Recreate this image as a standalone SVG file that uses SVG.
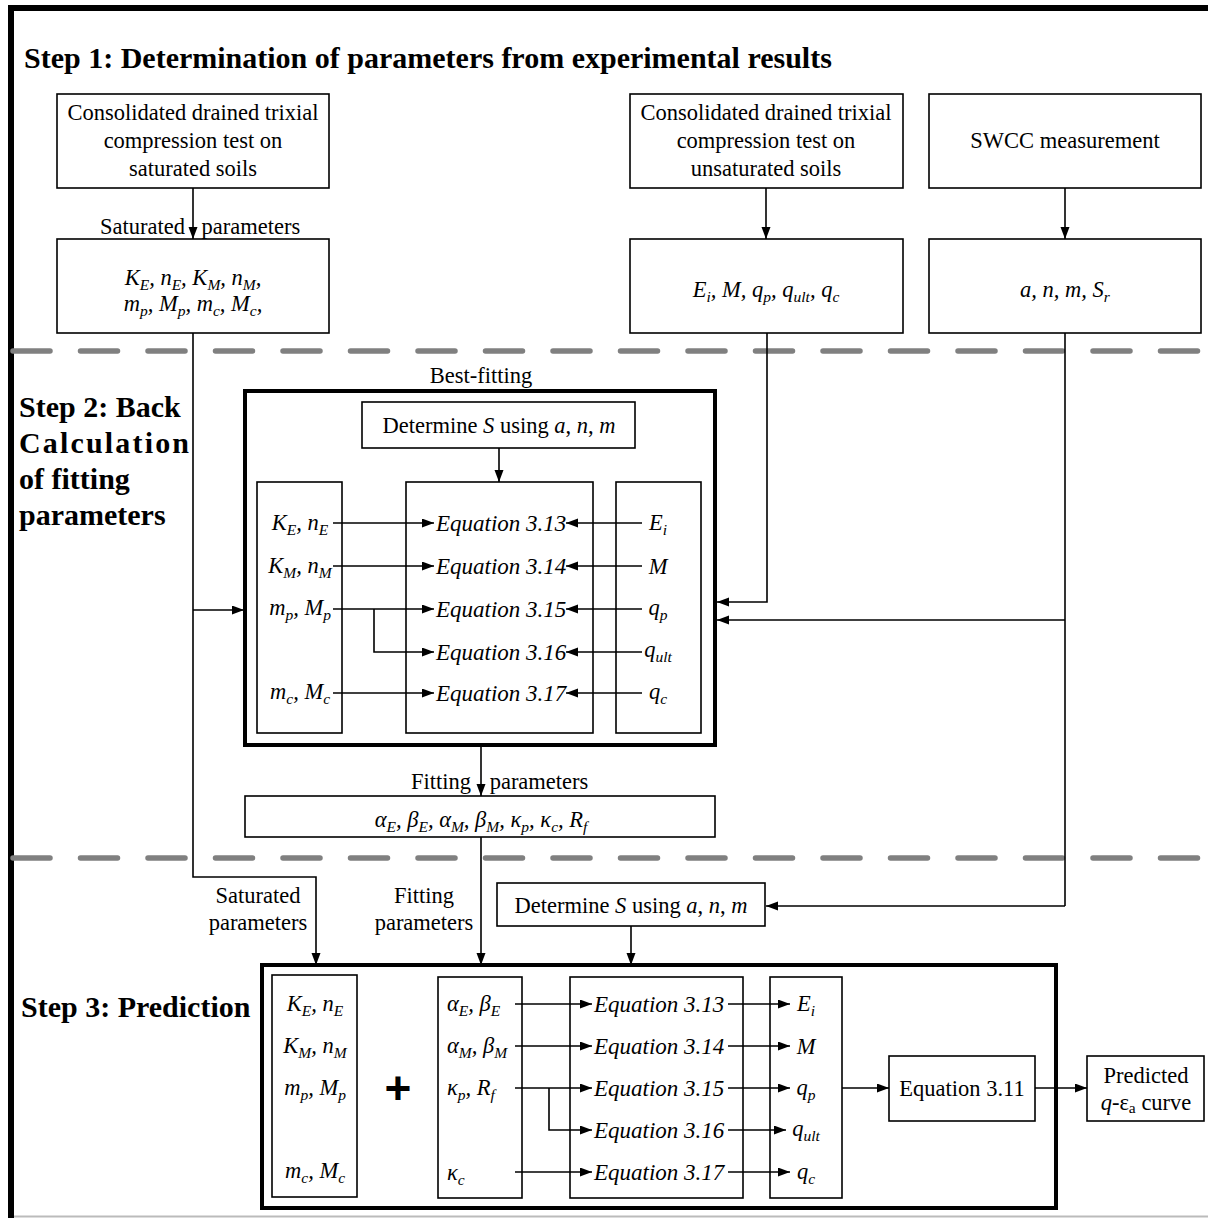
<svg xmlns="http://www.w3.org/2000/svg" width="1208" height="1218" viewBox="0 0 1208 1218" font-family="Liberation Serif, Times New Roman, serif">
<defs>
<marker id="ah" markerUnits="userSpaceOnUse" markerWidth="14" markerHeight="10" refX="12" refY="4.5" orient="auto">
<path d="M0,0 L12,4.5 L0,9 z" fill="#000"/>
</marker>
<style>
text{font-family:"Liberation Serif","Times New Roman",serif;fill:#000}
.t{font-size:22.5px}
.c{text-anchor:middle}
.i{font-style:italic}
.m{font-size:22.5px;font-style:italic}
.eq{font-size:23px;font-style:italic}
.s{font-size:15.5px}
.h{font-size:30px;font-weight:bold}
.box{fill:#fff;stroke:#000;stroke-width:1.6}
.big{fill:none;stroke:#000;stroke-width:4}
.ln{fill:none;stroke:#000;stroke-width:1.6}
.ar{fill:none;stroke:#000;stroke-width:1.6;marker-end:url(#ah)}
.dash{stroke:#808080;stroke-width:5.5;stroke-dasharray:37 30.5;stroke-linecap:round}
</style>
</defs>
<rect width="1208" height="1218" fill="#fff"/>
<g id="frame">
<line x1="8" y1="8" x2="1208" y2="8" stroke="#000" stroke-width="6"/>
<line x1="11" y1="5" x2="11" y2="1218" stroke="#000" stroke-width="6"/>
<line x1="14" y1="1216.5" x2="1208" y2="1216.5" stroke="#bbb" stroke-width="2"/>
<line class="dash" x1="13" y1="351" x2="1208" y2="351"/>
<line class="dash" x1="13" y1="858" x2="1208" y2="858"/>
</g>
<g id="titles">
<text class="h" x="24" y="68">Step 1: Determination of parameters from experimental results</text>
<text class="h" x="19" y="417">Step 2: Back</text>
<text class="h" x="19" y="453" textLength="170" lengthAdjust="spacing">Calculation</text>
<text class="h" x="19" y="489">of fitting</text>
<text class="h" x="19" y="525">parameters</text>
<text class="h" x="21" y="1017">Step 3: Prediction</text>
</g>
<g id="labels">
<text class="t" x="100" y="234" word-spacing="11">Saturated parameters</text>
<text class="t c" x="481" y="383">Best-fitting</text>
<text class="t" x="411" y="789" word-spacing="13">Fitting parameters</text>
<text class="t c" x="258" y="903">Saturated</text>
<text class="t c" x="258" y="930">parameters</text>
<text class="t c" x="424" y="903">Fitting</text>
<text class="t c" x="424" y="930">parameters</text>
</g>
<g id="n-sat-test">
<rect class="box" x="57" y="94" width="272" height="94"/>
<text class="t c" x="193" y="120">Consolidated drained trixial</text>
<text class="t c" x="193" y="148">compression test on</text>
<text class="t c" x="193" y="176">saturated soils</text>
</g>
<g id="n-sat-params">
<rect class="box" x="57" y="239" width="272" height="94"/>
<text class="m c" x="193" y="285">K<tspan class="s" dy="5">E</tspan><tspan dy="-5">, n</tspan><tspan class="s" dy="5">E</tspan><tspan dy="-5">, K</tspan><tspan class="s" dy="5">M</tspan><tspan dy="-5">, n</tspan><tspan class="s" dy="5">M</tspan><tspan dy="-5">,</tspan></text>
<text class="m c" x="193" y="311">m<tspan class="s" dy="5">p</tspan><tspan dy="-5">, M</tspan><tspan class="s" dy="5">p</tspan><tspan dy="-5">, m</tspan><tspan class="s" dy="5">c</tspan><tspan dy="-5">, M</tspan><tspan class="s" dy="5">c</tspan><tspan dy="-5">,</tspan></text>
</g>
<g id="n-unsat-test">
<rect class="box" x="630" y="94" width="273" height="94"/>
<text class="t c" x="766" y="120">Consolidated drained trixial</text>
<text class="t c" x="766" y="148">compression test on</text>
<text class="t c" x="766" y="176">unsaturated soils</text>
</g>
<g id="n-unsat-params">
<rect class="box" x="630" y="239" width="273" height="94"/>
<text class="m c" x="766" y="297">E<tspan class="s" dy="5">i</tspan><tspan dy="-5">, M, q</tspan><tspan class="s" dy="5">p</tspan><tspan dy="-5">, q</tspan><tspan class="s" dy="5">ult</tspan><tspan dy="-5">, q</tspan><tspan class="s" dy="5">c</tspan></text>
</g>
<g id="n-swcc">
<rect class="box" x="929" y="94" width="272" height="94"/>
<text class="t c" x="1065" y="148">SWCC measurement</text>
</g>
<g id="n-swcc-params">
<rect class="box" x="929" y="239" width="272" height="94"/>
<text class="m c" x="1065" y="297">a, n, m, S<tspan class="s" dy="5">r</tspan></text>
</g>
<g id="n-step2">
<rect class="big" x="245" y="391" width="470" height="354"/>
</g>
<g id="n-detS-1">
<rect class="box" x="362" y="402" width="273" height="46"/>
<text class="t c" x="499" y="433">Determine <tspan class="i">S</tspan> using <tspan class="i">a</tspan>, <tspan class="i">n</tspan>, <tspan class="i">m</tspan></text>
</g>
<g id="n-s2-sat">
<rect class="box" x="257" y="482" width="85" height="251"/>
<text class="m c" x="300" y="530">K<tspan class="s" dy="5">E</tspan><tspan dy="-5">, n</tspan><tspan class="s" dy="5">E</tspan></text>
<text class="m c" x="300" y="573">K<tspan class="s" dy="5">M</tspan><tspan dy="-5">, n</tspan><tspan class="s" dy="5">M</tspan></text>
<text class="m c" x="300" y="615">m<tspan class="s" dy="5">p</tspan><tspan dy="-5">, M</tspan><tspan class="s" dy="5">p</tspan></text>
<text class="m c" x="300" y="699">m<tspan class="s" dy="5">c</tspan><tspan dy="-5">, M</tspan><tspan class="s" dy="5">c</tspan></text>
</g>
<g id="n-s2-eq">
<rect class="box" x="406" y="482" width="187" height="251"/>
<text class="eq" x="436" y="531">Equation 3.13</text>
<text class="eq" x="436" y="574">Equation 3.14</text>
<text class="eq" x="436" y="617">Equation 3.15</text>
<text class="eq" x="436" y="660">Equation 3.16</text>
<text class="eq" x="436" y="701">Equation 3.17</text>
</g>
<g id="n-s2-unsat">
<rect class="box" x="616" y="482" width="85" height="251"/>
<text class="m c" x="658" y="530">E<tspan class="s" dy="5">i</tspan></text>
<text class="m c" x="658" y="574">M</text>
<text class="m c" x="658" y="615">q<tspan class="s" dy="5">p</tspan></text>
<text class="m c" x="658" y="657">q<tspan class="s" dy="5">ult</tspan></text>
<text class="m c" x="658" y="699">q<tspan class="s" dy="5">c</tspan></text>
</g>
<g id="n-fitting">
<rect class="box" x="245" y="796" width="470" height="41"/>
<text class="m c" x="481" y="827">α<tspan class="s" dy="5">E</tspan><tspan dy="-5">, β</tspan><tspan class="s" dy="5">E</tspan><tspan dy="-5">, α</tspan><tspan class="s" dy="5">M</tspan><tspan dy="-5">, β</tspan><tspan class="s" dy="5">M</tspan><tspan dy="-5">, κ</tspan><tspan class="s" dy="5">p</tspan><tspan dy="-5">, κ</tspan><tspan class="s" dy="5">c</tspan><tspan dy="-5">, R</tspan><tspan class="s" dy="5">f</tspan></text>
</g>
<g id="n-detS-2">
<rect class="box" x="497" y="883" width="268" height="43"/>
<text class="t c" x="631" y="913">Determine <tspan class="i">S</tspan> using <tspan class="i">a</tspan>, <tspan class="i">n</tspan>, <tspan class="i">m</tspan></text>
</g>
<g id="n-step3">
<rect class="big" x="262" y="965" width="794" height="243"/>
</g>
<g id="n-s3-sat">
<rect class="box" x="272" y="975" width="85" height="222"/>
<text class="m c" x="315" y="1011">K<tspan class="s" dy="5">E</tspan><tspan dy="-5">, n</tspan><tspan class="s" dy="5">E</tspan></text>
<text class="m c" x="315" y="1053">K<tspan class="s" dy="5">M</tspan><tspan dy="-5">, n</tspan><tspan class="s" dy="5">M</tspan></text>
<text class="m c" x="315" y="1095">m<tspan class="s" dy="5">p</tspan><tspan dy="-5">, M</tspan><tspan class="s" dy="5">p</tspan></text>
<text class="m c" x="315" y="1178">m<tspan class="s" dy="5">c</tspan><tspan dy="-5">, M</tspan><tspan class="s" dy="5">c</tspan></text>
</g>
<g id="n-plus">
<text x="398" y="1104" text-anchor="middle" font-size="46" font-weight="bold" style="font-family:'Liberation Sans',Arial,sans-serif">+</text>
</g>
<g id="n-s3-fit">
<rect class="box" x="438" y="977" width="84" height="221"/>
<text class="m" x="447" y="1011">α<tspan class="s" dy="5">E</tspan><tspan dy="-5">, β</tspan><tspan class="s" dy="5">E</tspan></text>
<text class="m" x="447" y="1053">α<tspan class="s" dy="5">M</tspan><tspan dy="-5">, β</tspan><tspan class="s" dy="5">M</tspan></text>
<text class="m" x="447" y="1095">κ<tspan class="s" dy="5">p</tspan><tspan dy="-5">, R</tspan><tspan class="s" dy="5">f</tspan></text>
<text class="m" x="447" y="1180">κ<tspan class="s" dy="5">c</tspan></text>
</g>
<g id="n-s3-eq">
<rect class="box" x="570" y="977" width="173" height="221"/>
<text class="eq" x="594" y="1012">Equation 3.13</text>
<text class="eq" x="594" y="1054">Equation 3.14</text>
<text class="eq" x="594" y="1096">Equation 3.15</text>
<text class="eq" x="594" y="1138">Equation 3.16</text>
<text class="eq" x="594" y="1180">Equation 3.17</text>
</g>
<g id="n-s3-out">
<rect class="box" x="770" y="977" width="72" height="221"/>
<text class="m c" x="806" y="1011">E<tspan class="s" dy="5">i</tspan></text>
<text class="m c" x="806" y="1054">M</text>
<text class="m c" x="806" y="1095">q<tspan class="s" dy="5">p</tspan></text>
<text class="m c" x="806" y="1136">q<tspan class="s" dy="5">ult</tspan></text>
<text class="m c" x="806" y="1179">q<tspan class="s" dy="5">c</tspan></text>
</g>
<g id="n-eq311">
<rect class="box" x="889" y="1056" width="146" height="65"/>
<text class="t c" x="962" y="1096">Equation 3.11</text>
</g>
<g id="n-predicted">
<rect class="box" x="1087" y="1056" width="117" height="65"/>
<text class="t c" x="1146" y="1083">Predicted</text>
<text class="t c" x="1146" y="1110"><tspan class="i">q</tspan>-ε<tspan class="s" dy="3">a</tspan><tspan dy="-3"> curve</tspan></text>
</g>
<g id="connectors">
<line class="ar" x1="193" y1="188" x2="193" y2="239"/>
<line class="ar" x1="766" y1="188" x2="766" y2="239"/>
<line class="ar" x1="1065" y1="188" x2="1065" y2="239"/>
<polyline class="ar" points="193,333 193,877 316,877 316,965"/>
<line class="ar" x1="193" y1="610" x2="244" y2="610"/>
<polyline class="ar" points="767,333 767,602 717,602"/>
<line class="ln" x1="1065" y1="333" x2="1065" y2="906"/>
<line class="ar" x1="1065" y1="620" x2="717" y2="620"/>
<line class="ar" x1="1065" y1="906" x2="766" y2="906"/>
<line class="ar" x1="499" y1="448" x2="499" y2="482"/>
<line class="ar" x1="333" y1="523" x2="434" y2="523"/>
<line class="ar" x1="333" y1="566" x2="434" y2="566"/>
<line class="ar" x1="333" y1="609" x2="434" y2="609"/>
<polyline class="ar" points="374,609 374,652 434,652"/>
<line class="ar" x1="333" y1="693" x2="434" y2="693"/>
<line class="ar" x1="642" y1="523" x2="566" y2="523"/>
<line class="ar" x1="642" y1="566" x2="566" y2="566"/>
<line class="ar" x1="642" y1="609" x2="566" y2="609"/>
<line class="ar" x1="642" y1="652" x2="566" y2="652"/>
<line class="ar" x1="642" y1="693" x2="566" y2="693"/>
<line class="ar" x1="481" y1="745" x2="481" y2="796"/>
<line class="ar" x1="481" y1="837" x2="481" y2="965"/>
<line class="ar" x1="631" y1="926" x2="631" y2="965"/>
<line class="ar" x1="515" y1="1004" x2="592" y2="1004"/>
<line class="ar" x1="515" y1="1046" x2="592" y2="1046"/>
<line class="ar" x1="515" y1="1088" x2="592" y2="1088"/>
<polyline class="ar" points="549,1088 549,1130 592,1130"/>
<line class="ar" x1="515" y1="1172" x2="592" y2="1172"/>
<line class="ar" x1="728" y1="1004" x2="790" y2="1004"/>
<line class="ar" x1="728" y1="1046" x2="790" y2="1046"/>
<line class="ar" x1="728" y1="1088" x2="790" y2="1088"/>
<line class="ar" x1="728" y1="1130" x2="786" y2="1130"/>
<line class="ar" x1="728" y1="1172" x2="790" y2="1172"/>
<line class="ar" x1="842" y1="1088" x2="889" y2="1088"/>
<line class="ar" x1="1035" y1="1088" x2="1087" y2="1088"/>
</g>
</svg>
